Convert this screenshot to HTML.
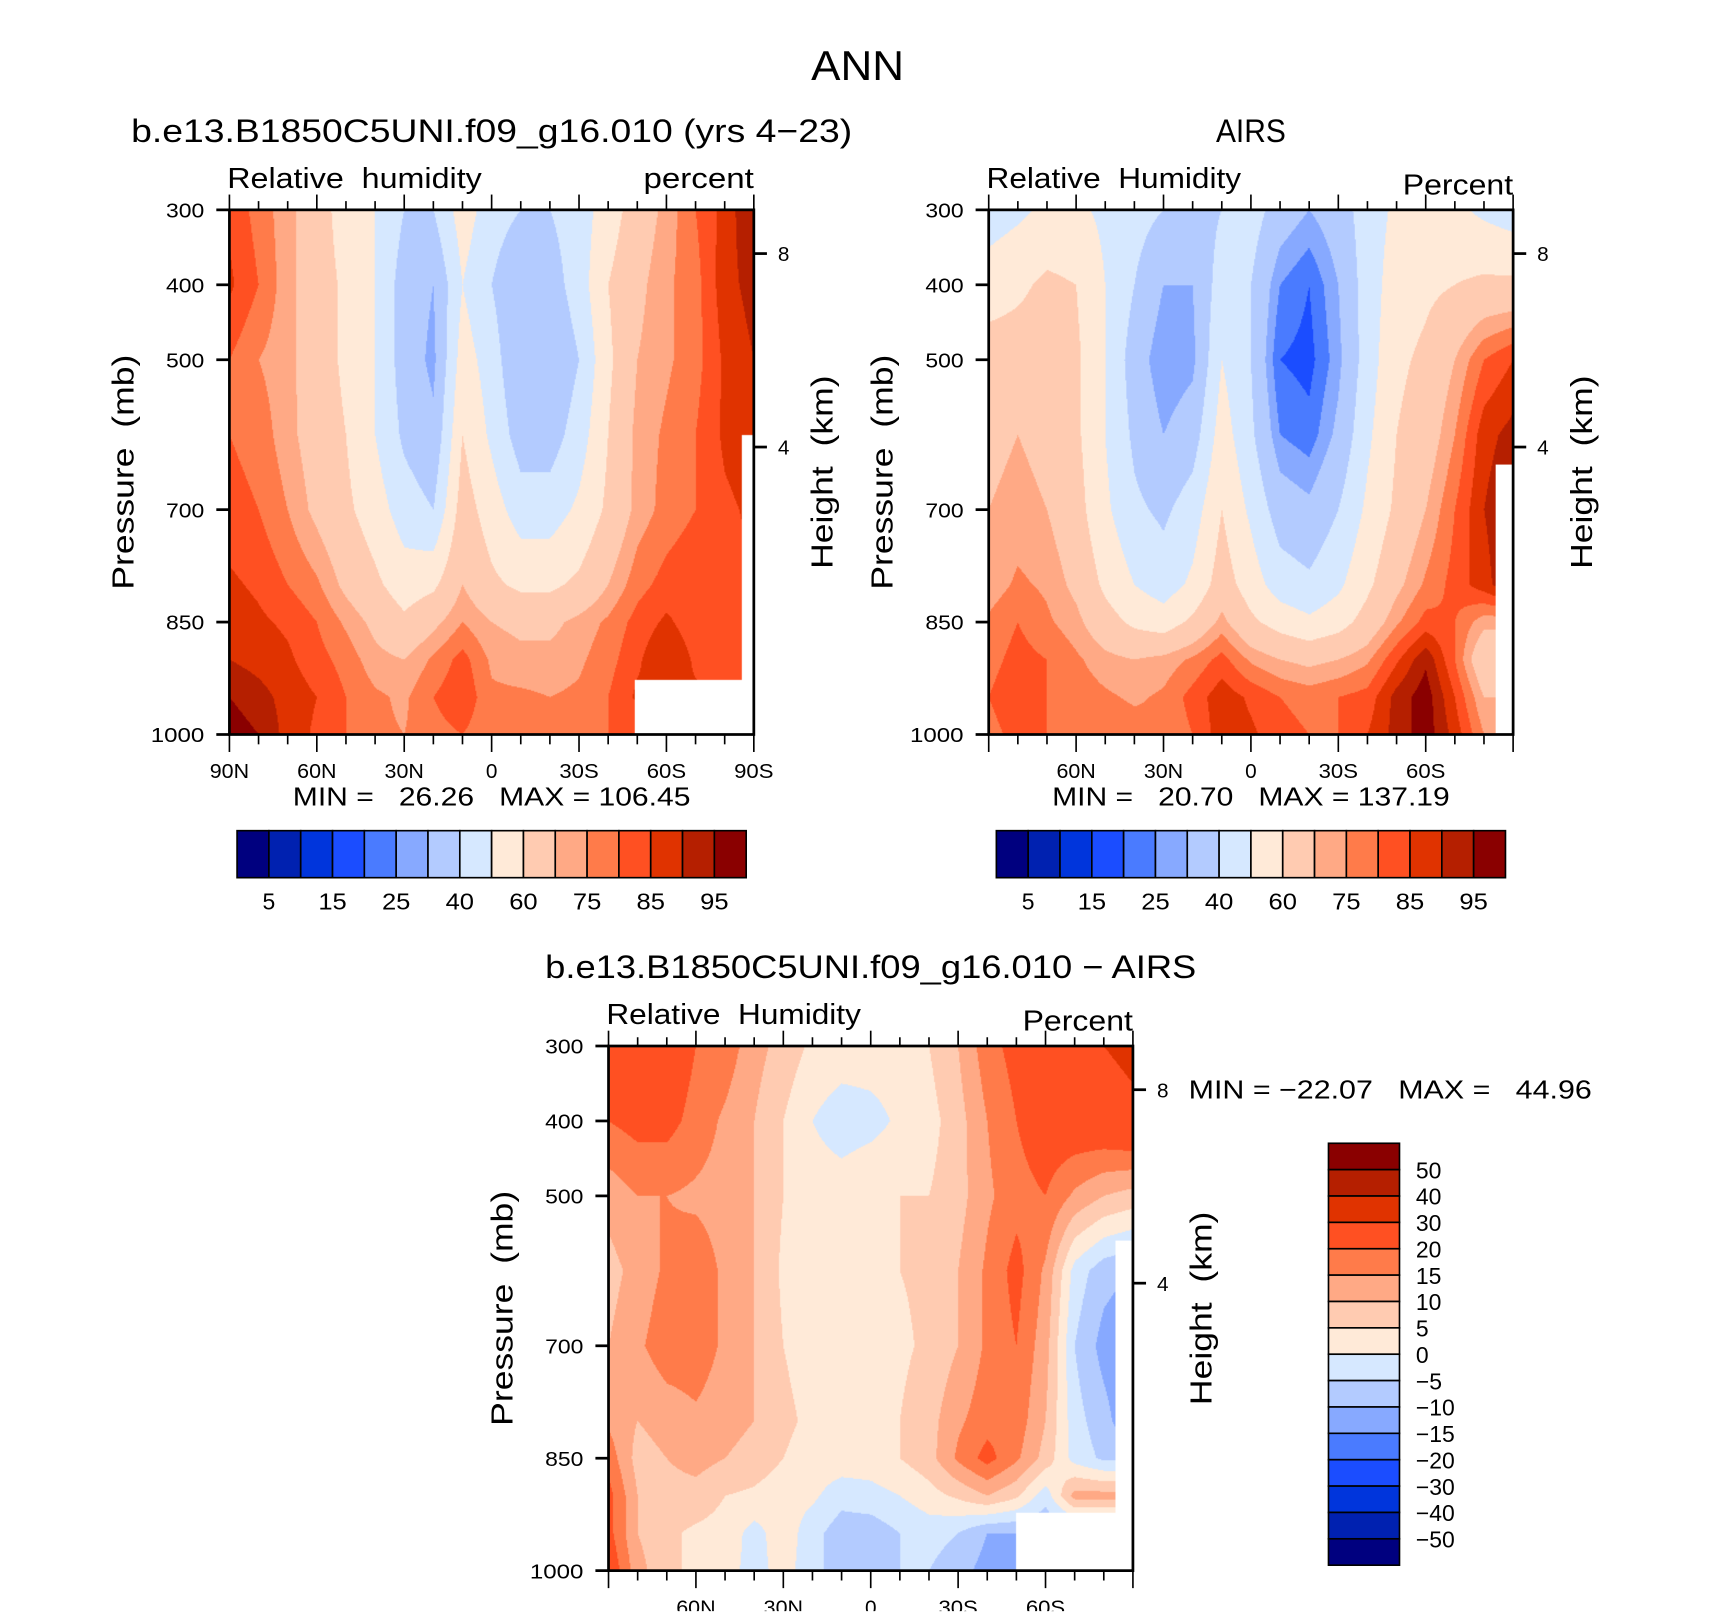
<!DOCTYPE html>
<html><head><meta charset="utf-8">
<style>
html,body{margin:0;padding:0;background:#fff;width:1710px;height:1616px;overflow:hidden}
#root{position:absolute;left:0;top:0;width:1560px;height:1474px;transform:scale(1.0925,1.093);transform-origin:0 0}
canvas{position:absolute}
svg{position:absolute;left:0;top:0}
text{font-family:"Liberation Sans",sans-serif;fill:#000;white-space:pre}
</style></head><body>
<div id="root">
<canvas id="c1" width="480" height="480" style="left:210px;top:192px"></canvas>
<canvas id="c2" width="480" height="480" style="left:905px;top:192px"></canvas>
<canvas id="c3" width="480" height="480" style="left:557px;top:957px"></canvas>
<svg id="s" width="1560" height="1474" viewBox="0 0 1560 1474"></svg>
</div>
<script>
// ---- data ----
const lats = [90,80,70,60,50,40,30,20,10,0,-10,-20,-30,-40,-50,-60,-70,-80,-90];
const pres = [300,400,500,600,700,800,850,900,950,1000];
const rhLevels = [5,10,15,20,25,30,40,50,60,70,75,80,85,90,95];
const rhLabels = ["5","15","25","40","60","75","85","95"];
const diffLevels = [-50,-40,-30,-20,-15,-10,-5,0,5,10,15,20,30,40,50];
const diffLabels = ["50","40","30","20","15","10","5","0","−5","−10","−15","−20","−30","−40","−50"];
const colors = ["#00007f","#0021b0","#0035dc","#1b4dff","#4a7bff","#87a9ff","#b3cbff","#d6e8ff","#ffead8","#ffcbb1","#ffa985","#ff7b4a","#ff5022","#e03300","#b51f00","#8a0000"];
const modelRH = [
[84,78,72,65,55,50,40,40,55,45,40,40,45,55,65,72,80,87,95],
[86,80,72,65,58,50,35,30,50,40,30,35,45,60,68,74,78,88,92],
[80,75,72,65,58,50,35,28,55,45,30,30,40,58,70,74,78,86,90],
[80,78,72,66,60,50,38,32,60,48,35,35,45,60,72,76,80,86,88],
[82,80,75,68,62,55,45,40,65,55,45,45,52,62,72,77,80,84,86],
[86,84,80,76,68,62,55,58,70,62,58,58,62,70,78,82,84,84,84],
[88,86,84,80,74,68,62,68,75,70,68,68,72,76,82,86,82,80,80],
[90,88,86,82,78,72,70,76,82,74,72,72,74,78,84,90,84,82,82],
[95,92,88,85,80,76,74,80,84,76,76,75,76,80,86,86,86,86,86],
[98,95,88,84,80,76,75,78,80,76,76,75,76,80,80,80,80,80,80]];
const airsRH = [
[45,48,52,52,48,44,40,35,40,45,35,30,35,45,52,56,52,48,45],
[55,58,62,60,50,40,30,30,45,40,25,20,30,45,55,58,60,62,62],
[65,65,65,62,50,35,25,28,50,40,20,18,28,45,58,62,70,80,85],
[68,70,68,62,50,38,30,35,55,42,25,22,32,48,60,65,75,88,92],
[70,72,70,64,52,42,38,45,60,48,35,32,40,52,62,70,80,90,95],
[72,76,74,68,58,50,45,52,65,55,45,42,48,58,68,76,82,88,95],
[76,80,76,72,64,58,55,62,72,62,56,52,56,64,74,82,80,72,72],
[78,82,80,76,72,70,72,76,82,74,70,68,70,74,84,94,80,62,62],
[80,84,80,78,76,74,76,82,88,84,80,78,80,82,92,98,85,70,70],
[78,82,80,78,80,78,76,80,88,86,82,80,80,85,92,98,88,75,75]];
const diffRH = [
[25,28,25,20,18,12,8,4,3,3,3,5,10,18,22,26,28,30,32],
[20,22,22,18,14,10,5,0,-3,-2,1,3,8,15,20,24,25,26,28],
[12,15,15,14,13,10,5,3,3,5,5,5,8,14,18,20,14,10,8],
[8,12,16,18,14,10,4,3,2,4,5,6,10,16,22,14,-2,-8,-10],
[10,14,18,18,14,10,5,3,2,3,4,6,10,16,20,12,-5,-12,-15],
[14,10,12,14,12,10,6,4,3,3,5,8,14,18,18,10,-3,-8,-15],
[18,8,10,12,10,8,5,3,3,3,5,8,16,22,16,8,-2,-6,-6],
[22,10,8,8,5,4,2,1,-3,-2,0,3,6,10,6,-3,12,12,12],
[22,10,6,4,3,-2,3,-3,-8,-8,-5,-3,-5,-10,-10,-10,-10,-10,-10],
[25,12,6,4,2,-2,2,-3,-8,-8,-5,-5,-8,-12,-12,-12,-12,-12,-12]];
const miss1 = [[-49,-90,927,1000],[-86,-90,600,1000]];
const miss2 = [[-84,-90,640,1000]];
const miss3 = [[-50,-90,922,1000],[-84,-90,560,1000]];

// ---- scales ----
const W=480,H=480;
function xOf(lat){return (90-lat)/180*W;}
function yOf(p){return (p-300)/700*H;}
function latOf(x){return 90-x/W*180;}
function pOf(y){return 300+y/H*700;}
function sample(g,lat,p){
  let fi=(90-lat)/10; let i=Math.min(Math.floor(fi),lats.length-2); let tx=fi-i;
  let j=0; while(j<pres.length-2 && pres[j+1]<p) j++;
  let ty=(p-pres[j])/(pres[j+1]-pres[j]); ty=Math.max(0,Math.min(1,ty));
  const a=g[j][i],b=g[j][i+1],c=g[j+1][i],d=g[j+1][i+1];
  return (a*(1-tx)+b*tx)*(1-ty)+(c*(1-tx)+d*tx)*ty;
}
function hex(h){return [parseInt(h.slice(1,3),16),parseInt(h.slice(3,5),16),parseInt(h.slice(5,7),16)];}
const rgb=colors.map(hex);
function drawField(id,g,levels,miss){
  const cv=document.getElementById(id),ctx=cv.getContext('2d');
  const img=ctx.createImageData(W,H);
  for(let y=0;y<H;y++)for(let x=0;x<W;x++){
    const lat=latOf(x+0.5),p=pOf(y+0.5);
    let k=0; const v=sample(g,lat,p); while(k<levels.length&&v>=levels[k])k++;
    let c=rgb[k];
    for(const m of miss){ if(lat<=m[0]&&lat>=m[1]&&p>=m[2]&&p<=m[3]) c=[255,255,255]; }
    const o=(y*W+x)*4; img.data[o]=c[0];img.data[o+1]=c[1];img.data[o+2]=c[2];img.data[o+3]=255;
  }
  ctx.putImageData(img,0,0);
}
drawField('c1',modelRH,rhLevels,miss1);
drawField('c2',airsRH,rhLevels,miss2);
drawField('c3',diffRH,diffLevels,miss3);

// ---- overlay ----
const NS="http://www.w3.org/2000/svg",S=document.getElementById('s');
function el(t,a,txt){const e=document.createElementNS(NS,t);for(const k in a)e.setAttribute(k,a[k]);if(txt!==undefined)e.textContent=txt;S.appendChild(e);return e;}
function T(x,y,s,size,anchor,name,rot,len){
  const a={x:x,y:y,'font-size':size,'text-anchor':anchor||'start'};
  if(rot) a.transform='rotate(-90 '+x+' '+y+')';
  if(len){a.textLength=len;a.lengthAdjust='spacingAndGlyphs';}
  const e=el('text',a,s);
  
  
  return e;
}
function L(x1,y1,x2,y2,w){return el('line',{x1:x1,y1:y1,x2:x2,y2:y2,stroke:'#000','stroke-width':w||2});}
const latLabels={90:"90N",60:"60N",30:"30N",0:"0","-30":"30S","-60":"60S","-90":"90S"};
function panel(px,py,opts){
  const fr=el('rect',{x:px,y:py,width:W,height:H,fill:'none',stroke:'#000','stroke-width':2.5});
  
  
  for(let lat=90;lat>=-90;lat-=10){
    const x=px+xOf(lat),maj=lat%30===0;
    L(x,py+H,x,py+H+(maj?16:9),1.5);L(x,py,x,py-(maj?14:8),1.5);
    if(maj && (opts.ends||Math.abs(lat)!==90)){
      const s=latLabels[lat];
      T(x,py+H+40,s,19,'middle',opts.key+'-x-tick-label',false,s.length===1?null:36);
    }
  }
  for(const p of [300,400,500,700,850,1000]){
    const y=py+yOf(p);L(px-12,y,px,y,2.5);
    T(px-23,y+7,String(p),19,'end',opts.key+'-y-tick-label',false,p===1000?49:35);
  }
  for(const [h,y] of [[8,40],[4,217]]){L(px+W,py+y,px+W+12,py+y,2.5);T(px+W+22,py+y+7,String(h),19,'start',opts.key+'-height-tick-label');}
  T(px-88,py+240,"Pressure  (mb)",28,'middle',opts.key+'-y-axis-title',true,215);
  T(px+W+72,py+240,"Height  (km)",28,'middle',opts.key+'-height-axis-title',true,177);
  T(px-2,py-20,opts.left,26,'start',opts.key+'-variable-label',false,233);
  T(px+W,py-14+opts.rdy,opts.right,26,'end',opts.key+'-units-label',false,101);
  T(px+W/2,py-62,opts.title,30,'middle',opts.key+'-title',false,opts.tlen);
}
T(785,73,"ANN",38,'middle','figure-title',false,85);
panel(210,192,{key:'model',title:"b.e13.B1850C5UNI.f09_g16.010 (yrs 4−23)",tlen:660,left:"Relative  humidity",right:"percent",rdy:-6,ends:true});
panel(905,192,{key:'airs',title:"AIRS",tlen:64,left:"Relative  Humidity",right:"Percent",rdy:0,ends:false});
panel(557,957,{key:'diff',title:"b.e13.B1850C5UNI.f09_g16.010 − AIRS",tlen:596,left:"Relative  Humidity",right:"Percent",rdy:0,ends:false});
T(450,737,"MIN =   26.26   MAX = 106.45",24,'middle','model-min-max',false,364);
T(1145,737,"MIN =   20.70   MAX = 137.19",24,'middle','airs-min-max',false,364);
T(1088,1005,"MIN = −22.07   MAX =   44.96",24,'start','diff-min-max',false,369);
function hbar(x0,y0,key){
  const bw=466/colors.length;
  colors.forEach((c,i)=>{const r=el('rect',{x:x0+i*bw,y:y0,width:bw,height:43,fill:c,stroke:'#000','stroke-width':1.5});
    
    });
  rhLabels.forEach((s,i)=>T(x0+(2*i+1)*bw,y0+72,s,21,'middle',key+'-colorbar-label',false,s.length>1?26:null));
}
hbar(217,760,'model');hbar(912,760,'airs');
(function(){const x0=1216,y0=1046,bh=386/colors.length;
  for(let i=0;i<colors.length;i++){const r=el('rect',{x:x0,y:y0+i*bh,width:65,height:bh,fill:colors[colors.length-1-i],stroke:'#000','stroke-width':1.5});
    
    }
  diffLabels.forEach((s,i)=>T(x0+80,y0+(i+1)*bh+8,s,21,'start','diff-colorbar-label'));
})();
</script>
</body></html>
